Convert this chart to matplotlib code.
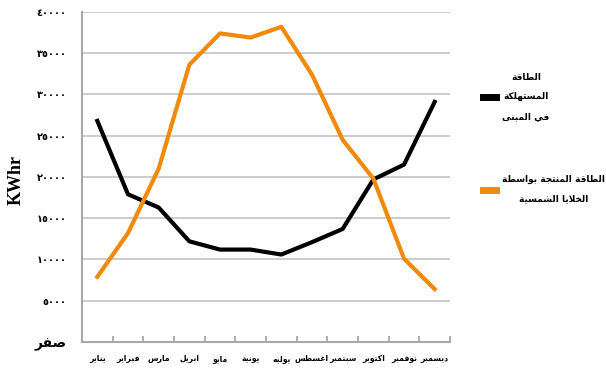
import numpy as np
import matplotlib
matplotlib.use('Agg')
import matplotlib.pyplot as plt

# monthly energy, kWh
months = ['يناير', 'فبراير', 'مارس', 'ابريل', 'مايو', 'يونية',
          'يوليه', 'اغسطس', 'سبتمبر', 'اكتوبر', 'نوفمبر', 'ديسمبر']
consumed = [26800, 17900, 16300, 12200, 11200, 11200,
            10600, 12100, 13700, 19700, 21500, 29100]
produced = [7900, 13200, 21000, 33600, 37400, 36900,
            38200, 32400, 24500, 19800, 10100, 6400]
y_ticks = [0, 5000, 10000, 15000, 20000, 25000, 30000, 35000, 40000]
y_tick_labels = ['صفر', '٥٠٠٠', '١٠٠٠٠', '١٥٠٠٠', '٢٠٠٠٠',
                 '٢٥٠٠٠', '٣٠٠٠٠', '٣٥٠٠٠', '٤٠٠٠٠']
consumed_label = 'الطاقة\nالمستهلكة\nفي المبنى'
produced_label = 'الطاقة المنتجة بواسطة\nالخلايا الشمسية'

# matplotlib has no arabic shaping, so pick presentation forms by hand
# (start code point of the isolated form, number of forms)
ARABIC_FORMS = {
    'ا': (0xFE8D, 2), 'ب': (0xFE8F, 4), 'ة': (0xFE93, 2), 'ت': (0xFE95, 4),
    'ج': (0xFE9D, 4), 'خ': (0xFEA5, 4), 'د': (0xFEA9, 2), 'ر': (0xFEAD, 2),
    'س': (0xFEB1, 4), 'ش': (0xFEB5, 4), 'ص': (0xFEB9, 4), 'ط': (0xFEC1, 4),
    'غ': (0xFECD, 4), 'ف': (0xFED1, 4), 'ق': (0xFED5, 4), 'ك': (0xFED9, 4),
    'ل': (0xFEDD, 4), 'م': (0xFEE1, 4), 'ن': (0xFEE5, 4), 'ه': (0xFEE9, 4),
    'و': (0xFEED, 2), 'ى': (0xFEEF, 2), 'ي': (0xFEF1, 4),
}


def shape_line(text):
    # digits keep their order, only words made of letters get reversed
    if not any(c in ARABIC_FORMS for c in text):
        return text
    chars = list(text)
    out = []
    i = 0
    while i < len(chars):
        c = chars[i]
        if c not in ARABIC_FORMS:
            out.append(c)
            i += 1
            continue
        prev = chars[i - 1] if i > 0 else ''
        joins_prev = prev in ARABIC_FORMS and ARABIC_FORMS[prev][1] == 4
        if c == 'ل' and i + 1 < len(chars) and chars[i + 1] == 'ا':
            out.append('\uFEFC' if joins_prev else '\uFEFB')
            i += 2
            continue
        nxt = chars[i + 1] if i + 1 < len(chars) else ''
        start, n = ARABIC_FORMS[c]
        joins_next = n == 4 and nxt in ARABIC_FORMS
        if joins_prev and joins_next:
            k = 3
        elif joins_next:
            k = 2
        elif joins_prev:
            k = 1
        else:
            k = 0
        out.append(chr(start + k))
        i += 1
    return ''.join(reversed(out))


def shape(text):
    return '\n'.join(shape_line(line) for line in text.split('\n'))


plt.rcParams['font.family'] = ['DejaVu Sans']

fig = plt.figure(figsize=(6.06, 3.74), dpi=100)
ax = fig.add_axes([0.1353, 0.0856, 0.6073, 0.8824])

x = np.arange(len(months))
l1, = ax.plot(x, consumed, color='black', lw=3.0, solid_joinstyle='round',
              label=shape(consumed_label))
l2, = ax.plot(x, produced, color='#f08a0c', lw=3.0, solid_joinstyle='round',
              label=shape(produced_label))

ax.set_xlim(-0.5, len(months) - 0.5)
ax.set_ylim(0, 40000)

ax.set_yticks(y_ticks)
ax.set_yticklabels([shape(t) for t in y_tick_labels], fontweight='bold')
for i, t in enumerate(ax.get_yticklabels()):
    t.set_fontsize(10 if i == 0 else 7)
ax.tick_params(axis='y', length=0, pad=11)
ax.yaxis.grid(True, color='#c8c8c8', lw=1.3)
ax.set_axisbelow(True)

ax.set_xticks(x)
ax.set_xticklabels([shape(m) for m in months], fontsize=5.5,
                   fontweight='bold')
ax.set_xticks(np.arange(len(months) + 1) - 0.5, minor=True)
ax.tick_params(axis='x', which='major', length=0, pad=9)
ax.tick_params(axis='x', which='minor', direction='in', length=4,
               color='#a0a0a0', width=1.2)

for s in ['top', 'right']:
    ax.spines[s].set_visible(False)
for s in ['left', 'bottom']:
    ax.spines[s].set_color('#a8a8a8')
    ax.spines[s].set_linewidth(1.5)

ax.set_ylabel('KWhr', family='Liberation Serif', fontweight='bold',
              fontsize=13)
ax.yaxis.set_label_coords(-0.155, 0.49)

leg = fig.legend(handles=[l1, l2], loc='center left',
                 bbox_to_anchor=(0.797, 0.631), frameon=False,
                 handlelength=1.4, handletextpad=0.75, labelspacing=6.0,
                 borderpad=0, borderaxespad=0,
                 prop={'weight': 'bold', 'size': 6.5})
for t in leg.get_texts():
    t.set_multialignment('center')
    t.set_linespacing(2.5)
for h in leg.legend_handles:
    h.set_linewidth(5)

fig.savefig('out.png', dpi=100)
